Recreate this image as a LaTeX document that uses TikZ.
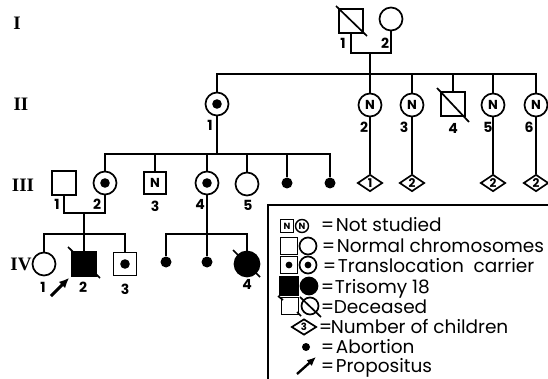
\documentclass[tikz,border=0pt]{standalone}
\usepackage{fontspec}
\setmainfont{Poppins}
\newfontfamily\romfont{Liberation Serif}
\usetikzlibrary{shapes.geometric,arrows.meta}
\begin{document}
\begin{tikzpicture}[x=1pt,y=-1pt, line width=1.7pt,
 sq/.style={draw, rectangle, minimum size=24pt, inner sep=0pt},
 ci/.style={draw, circle, minimum size=23pt, inner sep=0pt},
 carrier/.style={path picture={\fill (path picture bounding box.center) circle (4.8pt);}},
 carriers/.style={path picture={\fill (path picture bounding box.center) circle (3.4pt);}},
 abort/.style={circle, fill, minimum size=11pt, inner sep=0pt},
 kids/.style={draw, diamond, minimum width=25pt, minimum height=17pt, inner sep=0pt, font=\bfseries\fontsize{12}{12}\selectfont},
 lab/.style={font=\bfseries\fontsize{14}{14}\selectfont, inner sep=0pt},
 gen/.style={font=\romfont\bfseries\fontsize{19}{19}\selectfont, inner sep=0pt},
 nlab/.style={font=\bfseries\fontsize{13}{13}\selectfont},
 leg/.style={anchor=base west, inner sep=0pt, font=\fontsize{18.5}{18.5}\selectfont},
 pro/.style={-{Latex[length=10pt,width=9pt]}, line width=3pt}
]
\useasboundingbox (0,0) rectangle (548,379);
% generation labels
\node[gen] (gI) at (17,23) {I};
\node[gen] (gII) at (21,104) {II};
\node[gen] (gIII) at (23,185) {III};
\node[gen] (gIV) at (21,264) {IV};
% generation I
\node[sq] (I1) at (351,21) {};
\node[ci] (I2) at (391,19) {};
\draw ([shift={(-15,-15)}]I1.center) -- ([shift={(16,15)}]I1.center);
\node[lab] (lI1) at (343,43) {1};
\node[lab] (lI2) at (385,43) {2};
% generation II
\node[ci,carrier] (II1) at (217,104) {};
\node[ci,nlab] (II2) at (370,105) {N};
\node[ci,nlab] (II3) at (412,105) {N};
\node[sq] (II4) at (453,104) {};
\draw ([shift={(-16,-16)}]II4.center) -- ([shift={(16,18)}]II4.center);
\node[ci,nlab] (II5) at (493,105) {N};
\node[ci,nlab] (II6) at (536,105) {N};
\node[lab] (lII1) at (210,125) {1};
\node[lab] (lII2) at (364,127) {2};
\node[lab] (lII3) at (404,127) {3};
\node[lab] (lII4) at (453,128) {4};
\node[lab] (lII5) at (488,127) {5};
\node[lab] (lII6) at (529,127) {6};
% marriage I and sibship II
\coordinate (m1) at (370,53);
\coordinate (s1) at (370,74);
\draw (I1.south) |- (m1) -| (I2.south);
\draw (m1) -- (s1);
\draw (II1.north) |- (II6.north |- s1) -- (II6.north);
\foreach \n in {II2,II3,II4,II5} \draw (\n.north) -- (\n.north |- s1);
% number of children
\node[kids] (D2) at (370,183) {1};
\node[kids] (D3) at (412,183) {2};
\node[kids] (D5) at (493,183) {2};
\node[kids] (D6) at (536,183) {2};
\draw (II2.south) -- (D2.north);
\draw (II3.south) -- (D3.north);
\draw (II5.south) -- (D5.north);
\draw (II6.south) -- (D6.north);
% generation III
\node[sq] (III1) at (64,183) {};
\node[ci,carrier] (III2) at (105,183) {};
\node[sq,nlab,minimum size=22pt] (III3) at (155,183) {N};
\node[ci,carrier] (III4) at (207,183) {};
\node[ci] (III5) at (247,184) {};
\node[abort] (A1) at (287,183) {};
\node[abort] (A2) at (330,183) {};
\node[lab] (lIII1) at (57,204) {1};
\node[lab] (lIII2) at (97,204) {2};
\node[lab] (lIII3) at (155,206) {3};
\node[lab] (lIII4) at (200,204) {4};
\node[lab] (lIII5) at (248,205) {5};
\coordinate (s2) at (217,154);
\draw (II1.south) -- (s2);
\draw (III2.north) |- (A2.north |- s2) -- (A2.north);
\foreach \n in {III3,III4,III5,A1} \draw (\n.north) -- (\n.north |- s2);
% generation IV
\node[ci] (IV1) at (44,264) {};
\node[sq,fill] (IV2) at (84,264) {};
\draw ([shift={(-16,-17)}]IV2.center) -- ([shift={(16,14)}]IV2.center);
\node[sq,minimum size=23pt,carrier] (IV3) at (125,264) {};
\node[abort] (A3) at (166,262) {};
\node[abort] (A4) at (207,262) {};
\node[ci,fill,minimum size=25pt] (IV4) at (247,264) {};
\draw ([shift={(-14,-14)}]IV4.center) -- ([shift={(13,13)}]IV4.center);
\node[lab] (lIV1) at (43,287) {1};
\node[lab] (lIV2) at (83,287) {2};
\node[lab] (lIV3) at (125,289) {3};
\node[lab] (lIV4) at (247,284) {4};
\coordinate (m3) at (84,213);
\coordinate (s3) at (84,234);
\draw (III1.south) |- (m3) -| (III2.south);
\draw (m3) -- (s3);
\draw (IV1.north) |- (IV3.north |- s3) -- (IV3.north);
\draw (IV2.north) -- (IV2.north |- s3);
\coordinate (s4) at (207,234);
\draw (III4.south) -- (s4);
\draw (A3.north) |- (IV4.north |- s4) -- (IV4.north);
\draw (A4.north) -- (A4.north |- s4);
% propositus arrow
\coordinate (pa) at (51,296);
\draw[pro] (pa) -- ([shift={(-2,1)}]IV2.south west);
% legend frame
\coordinate (lf1) at (268,380);
\coordinate (lf2) at (268,205);
\coordinate (lf3) at (549,205);
\draw[line width=1.8pt] (lf1) -- (lf2) -- (lf3);
% legend symbols
\node[sq,minimum size=13pt,line width=1.4pt,font=\bfseries\fontsize{9}{9}\selectfont] (L1a) at (287,226) {N};
\node[ci,minimum size=13pt,line width=1.4pt,font=\bfseries\fontsize{9}{9}\selectfont] (L1b) at (302,226) {N};
\node[sq,minimum size=17pt] (L2a) at (289,246) {};
\node[ci,minimum size=17pt] (L2b) at (308,246) {};
\node[sq,minimum size=17pt,carriers] (L3a) at (289,265) {};
\node[ci,minimum size=17pt,carriers] (L3b) at (308,265) {};
\node[sq,fill,minimum size=18pt] (L4a) at (289,286) {};
\node[ci,fill,minimum size=17pt] (L4b) at (309,286) {};
\node[sq,minimum size=17pt] (L5a) at (290,306) {};
\draw ([shift={(-12,-10)}]L5a.center) -- ([shift={(-7,-6)}]L5a.center);
\draw ([shift={(7,6)}]L5a.center) -- ([shift={(11,10)}]L5a.center);
\node[ci,minimum size=17pt] (L5b) at (310,306) {};
\draw ([shift={(-10,-9)}]L5b.center) -- ([shift={(11,11)}]L5b.center);
\node[kids,minimum width=25pt,minimum height=16pt,font=\bfseries\fontsize{10}{10}\selectfont] (L6) at (304,327) {3};
\node[circle,fill,minimum size=8pt,inner sep=0pt] (L7) at (306,347) {};
\coordinate (L8a) at (297,374);
\coordinate (L8b) at (316,357);
\draw[pro,-{Latex[length=9pt,width=8pt]},line width=2.4pt] (L8a) -- (L8b);
% legend texts
\node[leg] (e1) at (320,232) {=};
\node[leg] (t1) at (335,232) {Not studied};
\node[leg] (e2) at (321,252) {=};
\node[leg] (t2) at (336,252) {Normal chromosomes};
\node[leg] (e3) at (322,272) {=};
\node[leg] (t3) at (337,272) {Translocation\ \ carrier};
\node[leg] (e4) at (320,293) {=};
\node[leg] (t4) at (334,293) {Trisomy 18};
\node[leg] (e5) at (320,313) {=};
\node[leg] (t5) at (333,313) {Deceased};
\node[leg] (e6) at (318,333) {=};
\node[leg] (t6) at (330,333) {Number of children};
\node[leg] (e7) at (320,353) {=};
\node[leg] (t7) at (335,353) {Abortion};
\node[leg] (e8) at (320,372) {=};
\node[leg] (t8) at (335,372) {Propositus};
\end{tikzpicture}
\end{document}
